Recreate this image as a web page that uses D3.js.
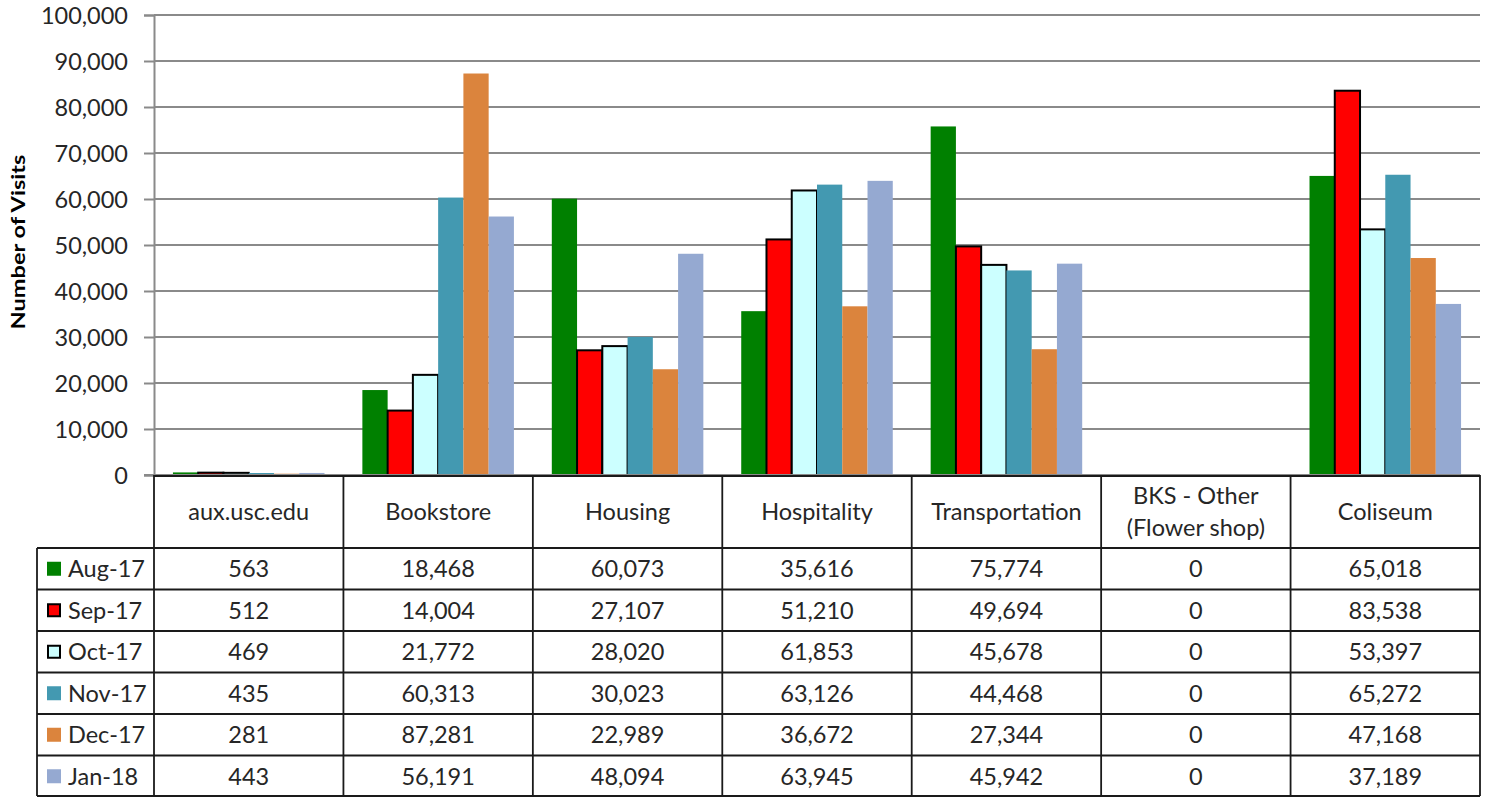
<!DOCTYPE html>
<html><head><meta charset="utf-8">
<script src="https://cdn.jsdelivr.net/npm/d3@7"></script>
<style>
html,body{margin:0;padding:0;background:#fff;}
svg{display:block;font-family:Lato, "Open Sans", sans-serif;}
</style></head>
<body>
<svg id="chart" width="1487" height="797"></svg>
<script>
const categories = ["aux.usc.edu","Bookstore","Housing","Hospitality","Transportation","BKS - Other\n(Flower shop)","Coliseum"];
const seriesNames = ["Aug-17","Sep-17","Oct-17","Nov-17","Dec-17","Jan-18"];
const aug17 = [563,18468,60073,35616,75774,0,65018];
const sep17 = [512,14004,27107,51210,49694,0,83538];
const oct17 = [469,21772,28020,61853,45678,0,53397];
const nov17 = [435,60313,30023,63126,44468,0,65272];
const dec17 = [281,87281,22989,36672,27344,0,47168];
const jan18 = [443,56191,48094,63945,45942,0,37189];
const yTicks = [0,10000,20000,30000,40000,50000,60000,70000,80000,90000,100000];
const colors = ["#008000","#FF0000","#CCFFFF","#4399B1","#DB843D","#95A9D1"];
const outlined = [false,true,true,false,false,false];

(function(){
const seriesValues = [aug17,sep17,oct17,nov17,dec17,jan18];
const svg = d3.select("#chart");
const pL = 154, pR = 1480, pT = 15, pB = 475;
const fmt = d3.format(",");

const y = d3.scaleLinear().domain([0,100000]).range([pB,pT]);
const x = d3.scaleBand().domain(categories).range([pL,pR]).paddingInner(0).paddingOuter(0);
const xs = d3.scaleBand().domain(seriesNames).range([0,x.bandwidth()]).paddingInner(0).paddingOuter(0.75);

// gridlines
svg.append("g").selectAll("line").data(yTicks.filter(d=>d>0)).join("line")
  .attr("x1",pL).attr("x2",pR).attr("y1",d=>y(d)).attr("y2",d=>y(d))
  .attr("stroke","#8a8a8a").attr("stroke-width",2);

// y axis
const yAxis = d3.axisLeft(y).tickValues(yTicks).tickFormat(fmt).tickSize(10).tickPadding(16);
const ag = svg.append("g").attr("transform",`translate(${pL},0)`).call(yAxis);
ag.select(".domain").attr("stroke","#8a8a8a").attr("stroke-width",2);
ag.selectAll(".tick line").attr("stroke","#8a8a8a").attr("stroke-width",2);
ag.selectAll(".tick text").attr("font-size","23.5px").attr("fill","#262626")
  .attr("font-family","Lato, sans-serif").attr("dy","0.36em");

// bars
seriesNames.forEach((s,si)=>{
  svg.append("g").selectAll("rect").data(categories.map((c,ci)=>({c,v:seriesValues[si][ci]})))
    .join("rect")
    .attr("x",d=>x(d.c)+xs(s)).attr("width",xs.bandwidth())
    .attr("y",d=>y(d.v)).attr("height",d=>y(0)-y(d.v))
    .attr("fill",colors[si])
    .attr("stroke",outlined[si]?"#000":"none")
    .attr("stroke-width",outlined[si]?2:0);
});

// axis baseline
svg.append("line").attr("x1",144).attr("x2",pR).attr("y1",pB).attr("y2",pB)
  .attr("stroke","#8a8a8a").attr("stroke-width",2);

// y title
svg.append("text").attr("transform",`translate(25,242) rotate(-90)`)
  .attr("text-anchor","middle").attr("font-weight","bold").attr("font-size","19px")
  .attr("fill","#000").attr("textLength",175).attr("lengthAdjust","spacingAndGlyphs")
  .text("Number of Visits");

// data table
const rowTop = 548, rowH = (797-548)/6, tableLeft = 37;
const lineColor = "#1a1a1a";
const tg = svg.append("g");
categories.forEach(c=>{
  const lines = c.split("\n");
  const cx = x(c)+x.bandwidth()/2;
  const t = tg.append("text").attr("text-anchor","middle").attr("font-size","23.5px").attr("fill","#262626");
  const lh = 32;
  const y0 = 512 - (lines.length-1)*lh/2;
  lines.forEach((ln,i)=>t.append("tspan").attr("x",cx).attr("y",y0+i*lh).attr("dy","0.36em").text(ln));
});
tg.append("line").attr("x1",pL).attr("x2",pR).attr("y1",pB+1).attr("y2",pB+1).attr("stroke",lineColor).attr("stroke-width",1.8);
d3.range(7).forEach(i=>{
  const yy = Math.min(rowTop + i*rowH, 796);
  tg.append("line").attr("x1",tableLeft).attr("x2",pR).attr("y1",yy).attr("y2",yy).attr("stroke",lineColor).attr("stroke-width",1.8);
});
categories.forEach(c=>{
  tg.append("line").attr("x1",x(c)).attr("x2",x(c)).attr("y1",pB).attr("y2",796).attr("stroke",lineColor).attr("stroke-width",1.8);
});
tg.append("line").attr("x1",pR).attr("x2",pR).attr("y1",pB).attr("y2",796).attr("stroke",lineColor).attr("stroke-width",1.8);
tg.append("line").attr("x1",tableLeft).attr("x2",tableLeft).attr("y1",rowTop).attr("y2",796).attr("stroke",lineColor).attr("stroke-width",1.8);

seriesNames.forEach((s,si)=>{
  const cy = rowTop + si*rowH + rowH/2;
  tg.append("rect").attr("x",outlined[si]?48:47).attr("y",cy-7+(outlined[si]?1:0))
    .attr("width",outlined[si]?12:14).attr("height",outlined[si]?12:14)
    .attr("fill",colors[si]).attr("stroke",outlined[si]?"#000":"none").attr("stroke-width",outlined[si]?2:0);
  tg.append("text").attr("x",68).attr("y",cy).attr("dy","0.36em").attr("font-size","23.5px").attr("fill","#262626").text(s);
  categories.forEach((c,ci)=>{
    tg.append("text").attr("x",x(c)+x.bandwidth()/2).attr("y",cy).attr("dy","0.36em")
      .attr("text-anchor","middle").attr("font-size","23.5px").attr("fill","#262626")
      .text(fmt(seriesValues[si][ci]));
  });
});
})();
</script>
</body></html>
